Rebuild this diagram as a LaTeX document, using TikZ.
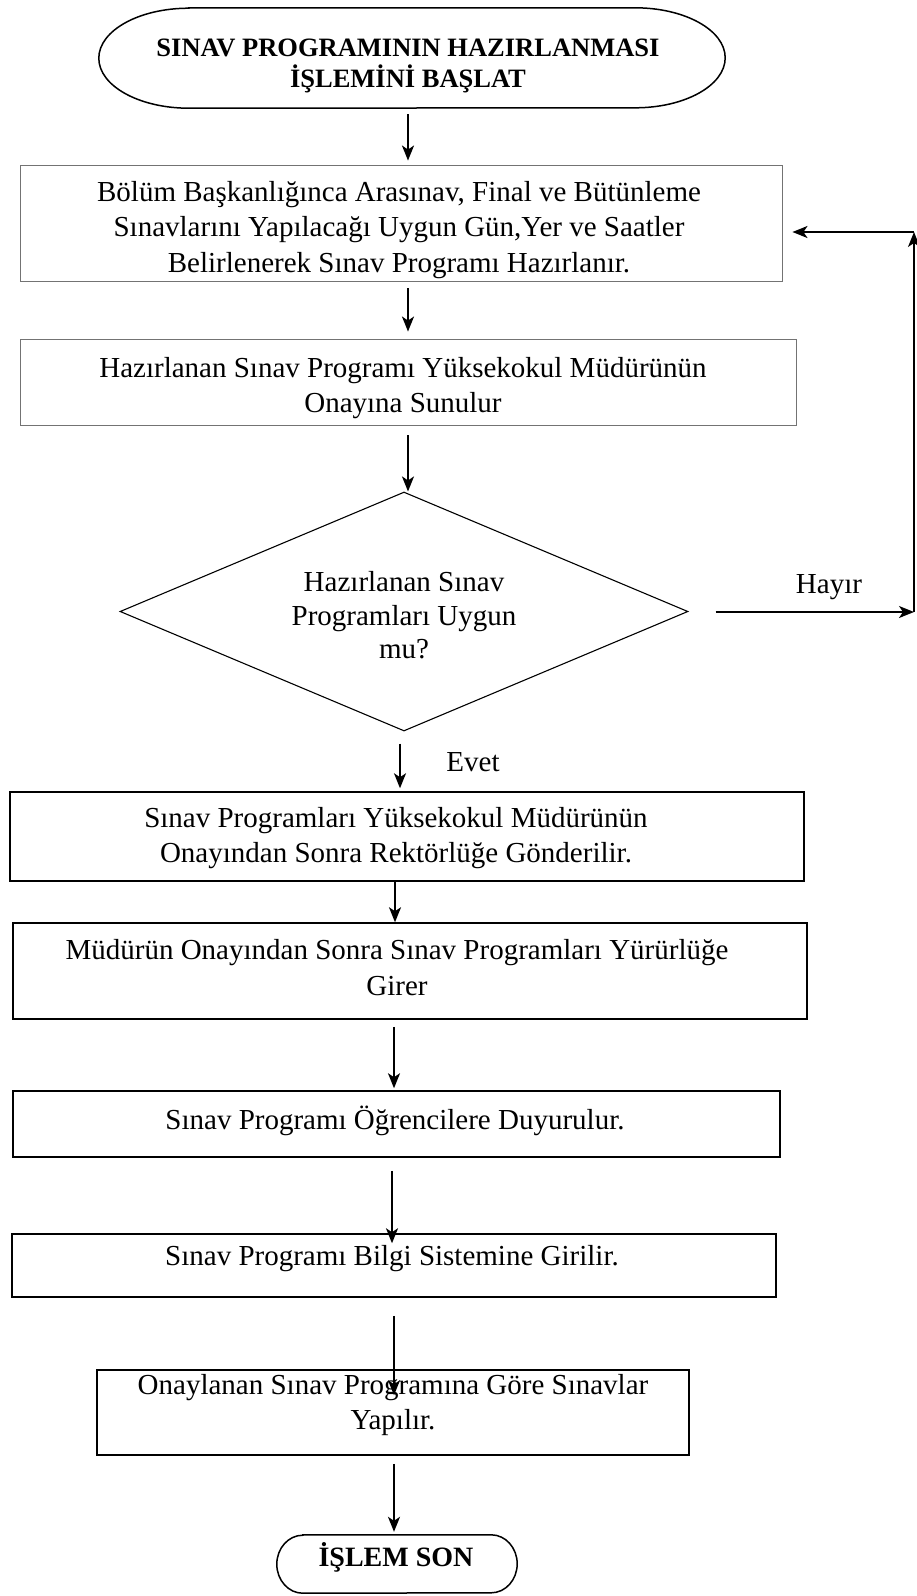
\documentclass[tikz,border=0pt]{standalone}
\usepackage{fontspec}
\setmainfont{Liberation Serif}
\usetikzlibrary{shapes.geometric,arrows.meta}
\begin{document}
\begin{tikzpicture}[x=1pt,y=-1pt,
  txt/.style={align=center, inner sep=0pt, font=\fontsize{29}{35.6}\selectfont},
  dtxt/.style={align=center, inner sep=0pt, font=\fontsize{29}{33.6}\selectfont},
  btxt/.style={align=center, inner sep=0pt, font=\fontsize{26.5}{30.5}\selectfont\bfseries},
  term/.style={draw=none, rectangle, inner sep=0pt},
  termline/.style={draw=black, line width=1.5pt},
  greybox/.style={draw=black!55, line width=0.9pt, rectangle, inner sep=0pt},
  box/.style={draw=black, line width=1.5pt, rectangle, inner sep=0pt},
  decision/.style={draw=black, line width=1.1pt, diamond, inner sep=0pt},
  arr/.style={-{Stealth[length=15pt,width=12pt,inset=4pt]}, line width=1.8pt},
]
\useasboundingbox (0,0) rectangle (916,1596);

% shapes
\node[term, minimum width=626, minimum height=100] (start) at (412,58) {};
\draw[termline] ([xshift=90pt]start.north west) -- ([xshift=-90pt]start.north east)
  arc[start angle=90, end angle=-90, x radius=90pt, y radius=50pt]
  -- ([xshift=90pt]start.south west)
  arc[start angle=270, end angle=90, x radius=90pt, y radius=50pt] -- cycle;
\node[greybox, minimum width=762, minimum height=116] (b1) at (401,223) {};
\node[greybox, minimum width=776, minimum height=86] (b2) at (408,382) {};
\node[decision, minimum width=568, minimum height=239] (dia) at (404,611.5) {};
\node[box, minimum width=794, minimum height=89] (b3) at (407,836.5) {};
\node[box, minimum width=794, minimum height=96] (b4) at (410,971) {};
\node[box, minimum width=767, minimum height=66] (b5) at (396.5,1124) {};
\node[box, minimum width=764, minimum height=63] (b6) at (394,1265.5) {};
\node[box, minimum width=592, minimum height=85] (b7) at (393,1412.5) {};
\node[term, minimum width=240, minimum height=58] (end) at (397,1564) {};
\draw[termline] ([xshift=26pt]end.north west) -- ([xshift=-26pt]end.north east)
  arc[start angle=90, end angle=-90, x radius=26pt, y radius=29pt]
  -- ([xshift=26pt]end.south west)
  arc[start angle=270, end angle=90, x radius=26pt, y radius=29pt] -- cycle;

% texts
\node[btxt] (tstart) at (408,66) {SINAV PROGRAMININ HAZIRLANMASI\\İŞLEMİNİ BAŞLAT};
\node[txt] (t1) at (399,230) {Bölüm Başkanlığınca Arasınav, Final ve Bütünleme\\Sınavlarını Yapılacağı Uygun Gün,Yer ve Saatler\\Belirlenerek Sınav Programı Hazırlanır.};
\node[txt] (t2) at (403,388) {Hazırlanan Sınav Programı Yüksekokul Müdürünün\\Onayına Sunulur};
\node[dtxt] (tdia) at (404,615.5) {Hazırlanan Sınav\\Programları Uygun\\mu?};
\node[txt] (t3) at (396,838) {Sınav Programları Yüksekokul Müdürünün\\Onayından Sonra Rektörlüğe Gönderilir.};
\node[txt] (t4) at (397,967.5) {Müdürün Onayından Sonra Sınav Programları Yürürlüğe\\Girer};
\node[txt] (t5) at (395,1121) {Sınav Programı Öğrencilere Duyurulur.};
\node[txt] (t6) at (392,1259) {Sınav Programı Bilgi Sistemine Girilir.};
\node[txt] (t7) at (393,1405) {Onaylanan Sınav Programına Göre Sınavlar\\Yapılır.};
\node[btxt, font=\fontsize{28}{32}\selectfont\bfseries] (tend) at (396,1557) {İŞLEM SON};
\node[txt] (lhayir) at (829,587) {Hayır};
\node[txt] (levet) at (473,762) {Evet};

% connector columns
\coordinate (c1) at (408,0);
\coordinate (ce) at (400,0);
\coordinate (c4) at (395,0);
\coordinate (c5) at (394,0);
\coordinate (c6) at (392,0);
\coordinate (hr) at (914,612);
\coordinate (tr) at (914,232);

% connectors
\draw[arr, shorten <=6pt, shorten >=4pt] (start.south -| c1) -- (b1.north -| c1);
\draw[arr, shorten <=7pt, shorten >=7pt] (b1.south -| c1) -- (b2.north -| c1);
\draw[arr, shorten <=10pt] (b2.south -| c1) -- (dia.north -| c1);
\draw[arr, shorten <=12pt, shorten >=3pt] (dia.south -| ce) -- (b3.north -| ce);
\draw[arr] (b3.south -| c4) -- (b4.north -| c4);
\draw[arr, shorten <=7pt, shorten >=2pt] (b4.south -| c5) -- (b5.north -| c5);
\draw[arr, shorten <=13pt, shorten >=-10pt] (b5.south -| c6) -- (b6.north -| c6);
\draw[arr, shorten <=18pt, shorten >=-26pt] (b6.south -| c5) -- (b7.north -| c5);
\draw[arr, shorten <=8pt, shorten >=3pt] (b7.south -| c5) -- (end.north -| c5);

% Hayir loop
\draw[arr, shorten <=27pt] (dia.east |- hr) -- (hr);
\draw[arr] (hr) -- (tr);
\draw[arr, shorten >=10pt] (tr) -- (b1.east |- tr);
\end{tikzpicture}
\end{document}
